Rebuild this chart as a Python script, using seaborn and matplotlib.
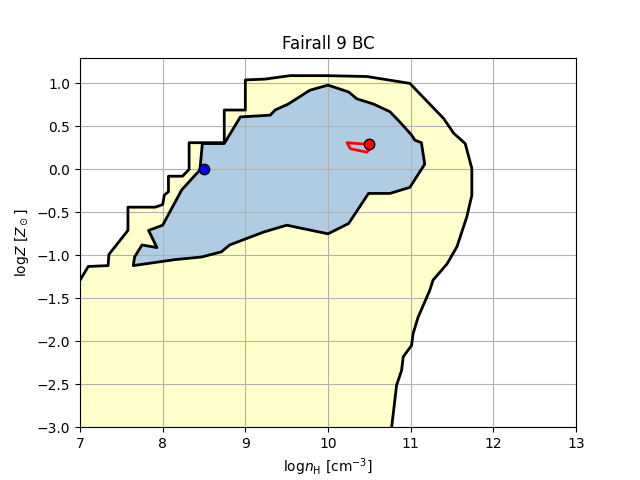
import numpy as np
import pandas as pd
import matplotlib
matplotlib.use("Agg")
import matplotlib.pyplot as plt
import seaborn as sns

# outer (yellow) contour, open path that leaves the frame at left and bottom
outer_x = [7.0, 7.10, 7.34, 7.35, 7.58, 7.58, 7.91, 8.00, 8.02, 8.07, 8.07, 8.24, 8.32,
           8.32, 8.745, 8.745, 9.0, 9.0, 9.24, 9.54, 9.98, 10.47, 10.99, 11.23, 11.40,
           11.52, 11.66, 11.74, 11.74, 11.68, 11.56, 11.44, 11.27, 11.23, 11.09, 11.03,
           11.01, 10.91, 10.89, 10.83, 10.77]
outer_y = [-1.29, -1.13, -1.12, -0.99, -0.71, -0.44, -0.44, -0.41, -0.30, -0.26, -0.08,
           -0.08, 0.0, 0.31, 0.31, 0.69, 0.69, 1.04, 1.05, 1.09, 1.09, 1.08, 1.0, 0.76,
           0.59, 0.42, 0.30, 0.01, -0.30, -0.55, -0.90, -1.10, -1.29, -1.41, -1.72,
           -1.91, -2.05, -2.18, -2.34, -2.51, -3.0]

# inner (blue) contour, closed
inner_x = [8.48, 8.745, 8.94, 9.30, 9.36, 9.52, 9.78, 10.0, 10.25, 10.35, 10.55, 10.75,
           10.87, 11.01, 11.05, 11.13, 11.17, 10.99, 10.75, 10.49, 10.25, 10.0, 9.50,
           9.22, 8.81, 8.71, 8.47, 8.15, 7.645, 7.66, 7.75, 7.93, 7.83, 8.00, 8.23,
           8.39, 8.45]
inner_y = [0.30, 0.30, 0.61, 0.63, 0.69, 0.76, 0.92, 0.98, 0.90, 0.82, 0.76, 0.67,
           0.55, 0.40, 0.34, 0.31, 0.06, -0.21, -0.28, -0.28, -0.63, -0.75, -0.65,
           -0.73, -0.88, -0.96, -1.02, -1.05, -1.12, -1.02, -0.88, -0.91, -0.71, -0.65,
           -0.24, -0.07, -0.01]

# small red contour
red_x = [10.50, 10.23, 10.27, 10.47, 10.51]
red_y = [0.29, 0.31, 0.24, 0.20, 0.24]

# best-fit points
pts_x = [8.5, 10.5]
pts_y = [0.0, 0.29]
pts_c = ["blue", "red"]

fig, ax = plt.subplots(figsize=(6.4, 4.8), dpi=100)

# yellow region, closed along the frame
ax.fill(outer_x + [10.77, 7.0], outer_y + [-3.0, -3.0], color="#ffffcc", lw=0, zorder=1)
ax.fill(inner_x, inner_y, color="#b0cce3", lw=0, zorder=1)

outer = pd.DataFrame({"x": outer_x, "y": outer_y})
inner = pd.DataFrame({"x": inner_x + inner_x[:1], "y": inner_y + inner_y[:1]})
red = pd.DataFrame({"x": red_x + red_x[:1], "y": red_y + red_y[:1]})

sns.lineplot(data=outer, x="x", y="y", sort=False, estimator=None, color="black", lw=2, ax=ax)
sns.lineplot(data=inner, x="x", y="y", sort=False, estimator=None, color="black", lw=2, ax=ax)
sns.lineplot(data=red, x="x", y="y", sort=False, estimator=None, color="red", lw=2,
             solid_joinstyle="round", ax=ax)

for x, y, c in zip(pts_x, pts_y, pts_c):
    ax.plot(x, y, "o", color=c, mec="black", ms=7.5, zorder=3)

ax.set_xlim(7, 13)
ax.set_ylim(-3, 1.3)
ax.grid(True)
ax.set_title("Fairall 9 BC")
ax.set_xlabel(r"log$n_{\rm H}$ [cm$^{-3}$]")
ax.set_ylabel(r"log$Z$ [$Z_\odot$]")

plt.savefig("out.png", dpi=100)
